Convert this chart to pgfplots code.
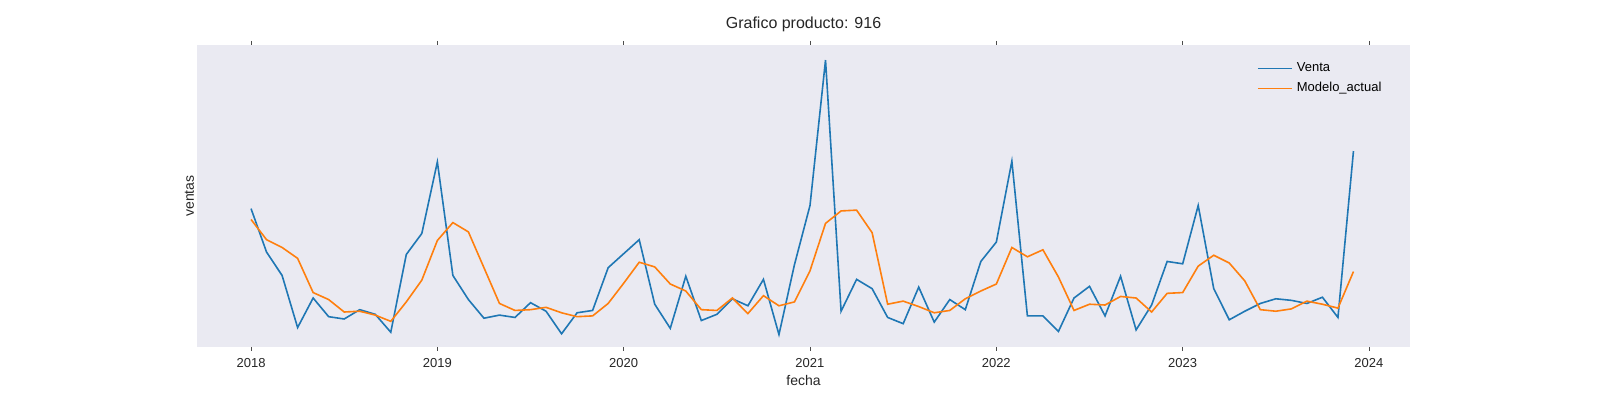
\documentclass[border=0pt]{standalone}
\usepackage{pgfplots}
\pgfplotsset{compat=1.18}
\usepackage{fontspec}
\setmainfont{Liberation Sans}
\definecolor{c0}{HTML}{1F77B4}
\definecolor{c1}{HTML}{FF7F0E}
\definecolor{bg}{HTML}{EAEAF2}
\begin{document}
\begin{tikzpicture}
\path (-98.5pt,-26.5pt) rectangle (701.5pt,173.5pt);
\begin{axis}[at={(0,0)},anchor=south west,
scale only axis, width=606.5pt, height=151pt,
xmin=2017.71, xmax=2024.22, ymin=180, ymax=4064,
axis background/.style={fill=bg}, axis line style={draw=none},
xtick={2018,...,2024}, ytick={500,1000,...,4000},
xticklabel style={/pgf/number format/1000 sep=},
/pgf/number format/1000 sep=,
/pgf/number format/assume math mode=true,
tick style={draw=black!70}, tick align=outside, major tick length=2pt,
ymajorticks=false,
ticklabel style={font=\fontsize{6.5}{7}\selectfont, text=black!85},
xlabel={fecha}, ylabel={ventas},
label style={font=\fontsize{7}{8}\selectfont, text=black!85},
xlabel shift=-3pt, ylabel shift=-2pt,
title={Grafico producto: 916}, title style={font=\fontsize{8}{9}\selectfont, text=black!85, yshift=-3pt},
legend style={draw=none, fill=none, font=\fontsize{6.5}{7}\selectfont, at={(0.985,0.97)}, anchor=north east},
legend cell align=left,
]
\addplot[c0, line width=0.8pt] table[x expr={2018+\coordindex/12}, y index=0] {
v
1960
1400
1100
430
810
570
540
660
600
370
1370
1640
2560
1100
790
550
590
560
750
640
350
620
650
1200
1380
1560
730
420
1090
520
600
800
710
1050
340
1240
2000
3870
640
1050
930
560
480
950
500
790
660
1280
1530
2570
580
580
380
810
960
580
1090
400
720
1280
1250
2000
930
530
640
740
800
780
740
820
560
2700
};
\addlegendentry{Venta}
\addplot[c1, line width=0.8pt] table[x expr={2018+\coordindex/12}, y index=0] {
m
1820
1560
1460
1320
880
790
630
640
590
510
760
1040
1550
1780
1660
1200
740
650
660
690
620
570
580
740
1000
1270
1210
990
900
660
650
810
610
840
710
760
1160
1770
1930
1940
1650
730
770
700
620
650
800
900
990
1460
1340
1430
1080
650
730
720
830
810
630
870
880
1220
1360
1260
1030
660
640
670
770
730
680
1150
};
\addlegendentry{Modelo\_actual}
\end{axis}
\end{tikzpicture}
\end{document}
